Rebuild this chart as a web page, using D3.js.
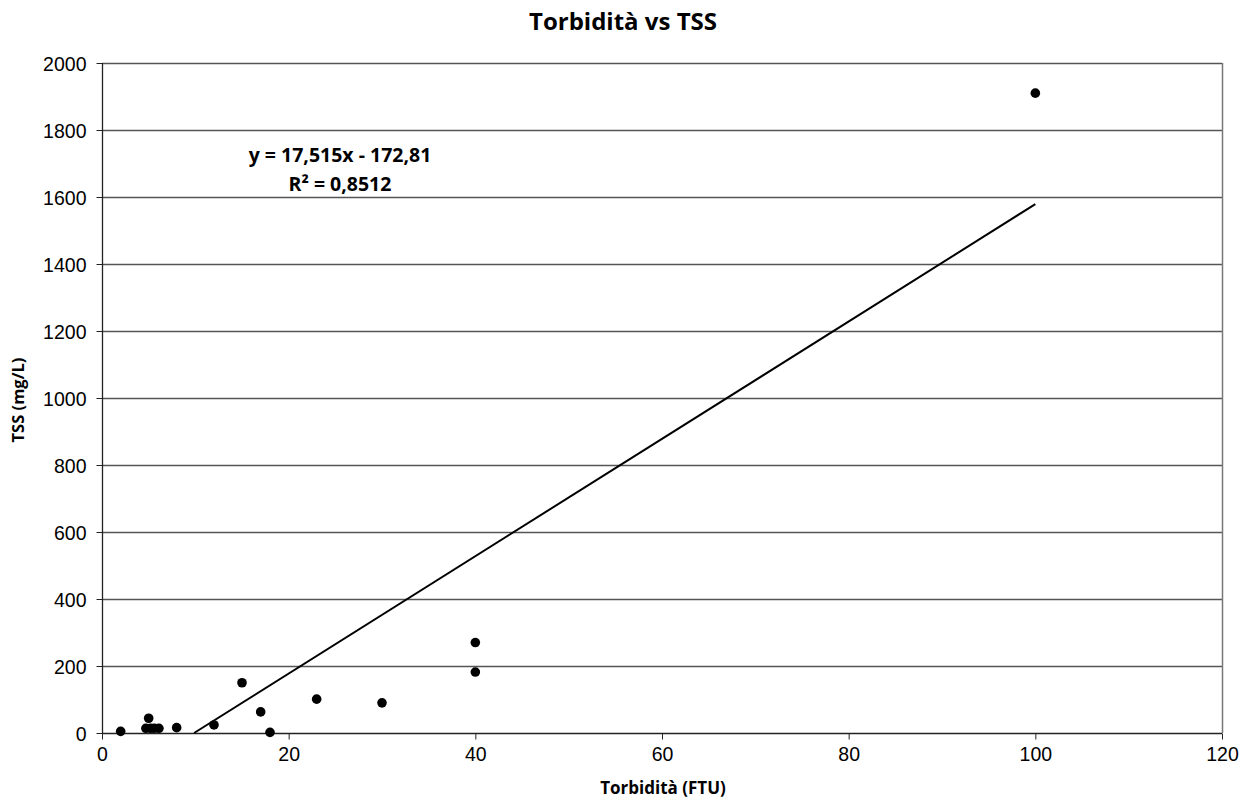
<!DOCTYPE html>
<html>
<head>
<meta charset="utf-8">
<script src="https://cdn.jsdelivr.net/npm/d3@7"></script>
<style>
  body { margin: 0; background: #fff; }
</style>
</head>
<body>
<svg id="chart" width="1250" height="798"></svg>
<script>
// data
var torbidita = [2, 5, 4.7, 5.2, 5.6, 6.1, 8, 12, 15, 17, 18, 23, 30, 40, 40, 100]
var tss       = [5, 44, 14, 14, 14, 14, 16, 24, 150, 63, 2, 101, 90, 270, 182, 1910]
var xTicks = [0, 20, 40, 60, 80, 100, 120]
var yTicks = [0, 200, 400, 600, 800, 1000, 1200, 1400, 1600, 1800, 2000]
var slope = 17.515
var intercept = -172.81
var eqLabel = "y = 17,515x - 172,81"
var r2Label = "R² = 0,8512"

var pts = torbidita.map(function(d,i){ return {x: d, y: tss[i]} })

var plotDims = {x: 102, y: 63, width: 1120, height: 670}
var svg = d3.select("#chart")
var boldFont = "'Open Sans', 'Noto Sans', sans-serif"
var tickFont = "'Liberation Sans', Arial, sans-serif"

var x = d3.scaleLinear().domain([0,120]).range([plotDims.x, plotDims.x+plotDims.width])
var y = d3.scaleLinear().domain([0,2000]).range([plotDims.y+plotDims.height, plotDims.y])

// gridlines
svg.append("g")
  .selectAll("line")
  .data(yTicks.slice(1))
  .enter()
  .append("line")
  .attr("x1", x(0)).attr("x2", x(120))
  .attr("y1", function(d){return Math.round(y(d))+0.5})
  .attr("y2", function(d){return Math.round(y(d))+0.5})
  .style("stroke", "#555")
  .style("stroke-width", 1.3)

// right border
svg.append("line")
  .attr("x1", Math.round(x(120))+0.5).attr("x2", Math.round(x(120))+0.5)
  .attr("y1", y(2000)).attr("y2", y(0))
  .style("stroke", "#777")
  .style("stroke-width", 1.5)

var xAxis = d3.axisBottom(x).tickValues(xTicks).tickSize(6).tickPadding(8).tickFormat(d3.format("d"))
var yAxis = d3.axisLeft(y).tickValues(yTicks).tickSize(6).tickPadding(10).tickFormat(d3.format("d"))

var gx = svg.append("g")
  .attr("transform", "translate(0," + (Math.round(y(0))+0.5) + ")")
  .call(xAxis)
gx.select(".domain").attr("d", "M" + x(0) + ",0H" + x(120)).style("stroke", "#222").style("stroke-width", 1.3)
gx.selectAll(".tick line").style("stroke", "#222")

var gy = svg.append("g")
  .attr("transform", "translate(" + (Math.round(x(0))+0.5) + ",0)")
  .call(yAxis)
gy.select(".domain").attr("d", "M0," + y(0) + "V" + y(2000)).style("stroke", "#222").style("stroke-width", 1.3)
gy.selectAll(".tick line").style("stroke", "#222")

svg.selectAll(".tick text")
  .style("font-family", tickFont)
  .style("font-size", "19.5px")
  .style("fill", "#000")
gy.selectAll(".tick text").attr("dy", "0.36em")

// trendline, clipped at y = 0
var xStart = -intercept/slope
var xEnd = d3.max(torbidita)
svg.append("line")
  .attr("x1", x(xStart)).attr("y1", y(slope*xStart+intercept))
  .attr("x2", x(xEnd)).attr("y2", y(slope*xEnd+intercept))
  .style("stroke", "#000")
  .style("stroke-width", 2)

svg.append("g")
  .selectAll("circle")
  .data(pts)
  .enter()
  .append("circle")
  .attr("cx", function(d){return x(d.x)})
  .attr("cy", function(d){return y(d.y)})
  .attr("r", 4.8)
  .style("fill", "#000")

// texts
svg.append("text")
  .attr("x", 623).attr("y", 30)
  .style("text-anchor", "middle")
  .style("font-family", boldFont)
  .style("font-weight", "bold")
  .style("font-size", "24px")
  .text("Torbidità vs TSS")

svg.append("text")
  .attr("x", 340).attr("y", 162)
  .style("text-anchor", "middle")
  .style("font-family", boldFont)
  .style("font-weight", "bold")
  .style("font-size", "19.5px")
  .text(eqLabel)

svg.append("text")
  .attr("x", 340).attr("y", 191)
  .style("text-anchor", "middle")
  .style("font-family", boldFont)
  .style("font-weight", "bold")
  .style("font-size", "19.5px")
  .text(r2Label)

svg.append("text")
  .attr("x", 663).attr("y", 794)
  .style("text-anchor", "middle")
  .style("font-family", boldFont)
  .style("font-weight", "bold")
  .style("font-size", "17px")
  .text("Torbidità (FTU)")

svg.append("text")
  .attr("transform", "translate(24,400) rotate(-90)")
  .style("text-anchor", "middle")
  .style("font-family", boldFont)
  .style("font-weight", "bold")
  .style("font-size", "16.5px")
  .text("TSS (mg/L)")
</script>
</body>
</html>
